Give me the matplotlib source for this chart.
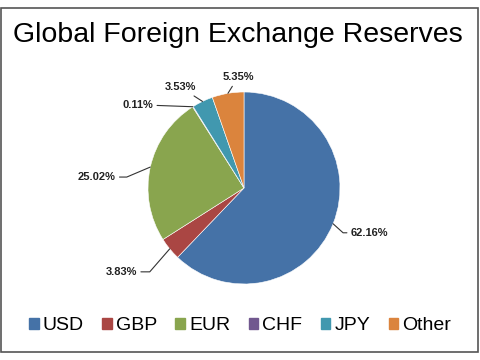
import numpy as np
import matplotlib
matplotlib.use("Agg")
import matplotlib.pyplot as plt
from matplotlib.patches import Rectangle

plt.rcParams['font.family'] = ['Liberation Sans', 'DejaVu Sans']

# data
currencies = ['USD', 'GBP', 'EUR', 'CHF', 'JPY', 'Other']
shares = [62.16, 3.83, 25.02, 0.11, 3.53, 5.35]
colors = ['#4572A7', '#AA4643', '#89A54E', '#71588F', '#4198AF', '#DB843D']

# label placement: offset in pixels from wedge edge, alignment, leader slope (None = straight)
label_offsets = [(18, -9, 'left', -42), (-33, -23, 'right', 49), (-35, -10, 'right', 23),
                 (-40, 2, 'right', None), (-6, 14, 'right', None), (10, 16, 'center', None)]

fig = plt.figure(figsize=(4.8, 3.6), dpi=100)

# outer frame
fig.patches.append(Rectangle((0.003, 0.022), 0.993, 0.956, transform=fig.transFigure,
                             fill=False, edgecolor='#555555', lw=1.2))

fig.text(0.496, 1 - 42 / 360, 'Global Foreign Exchange Reserves', ha='center',
         va='baseline', fontsize=20.5)

ax = fig.add_axes([(244 - 96) / 480, (360 - 188 - 96) / 360, 192 / 480, 192 / 360])
wedges, _ = ax.pie(shares, colors=colors, startangle=90, counterclock=False,
                   radius=1, wedgeprops=dict(edgecolor='white', linewidth=0.4))
ax.set_xlim(-1, 1)
ax.set_ylim(-1, 1)
ax.set_aspect('equal')
ax.axis('off')

px = 72 / 100
for w, val, (dx, dy, ha, slope) in zip(wedges, shares, label_offsets):
    ang = np.deg2rad((w.theta1 + w.theta2) / 2)
    xy = (np.cos(ang), np.sin(ang))
    if slope is None:
        conn = 'arc3'
    else:
        conn = f'angle,angleA=0,angleB={slope},rad=0'
    ax.annotate(f'{val:.2f}%', xy=xy, xytext=(dx * px, dy * px), textcoords='offset points',
                ha=ha, va='center', fontsize=8, fontweight='bold', color='#222222',
                annotation_clip=False,
                arrowprops=dict(arrowstyle='-', color='#333333', lw=0.8,
                                shrinkA=1, shrinkB=0, connectionstyle=conn))

handles = [Rectangle((0, 0), 1, 1, color=c) for c in colors]
fig.legend(handles, currencies, loc='center', bbox_to_anchor=(0.5, 1 - 326 / 360),
           ncol=6, frameon=False, fontsize=14, handlelength=0.5, handleheight=0.5,
           handletextpad=0.2, columnspacing=0.95)

fig.savefig('out.png', dpi=100)
